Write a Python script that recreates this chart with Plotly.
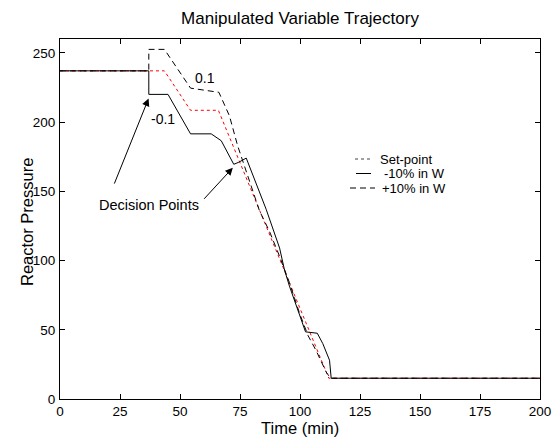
import plotly.graph_objects as go

# ---- data ----
t_setpoint = [0, 37, 43.5, 54.4, 66, 112, 200]
p_setpoint = [237, 237, 237, 208.5, 208.5, 15, 15]

t_minus = [0, 37, 37, 45, 54.4, 63, 67.2, 72.4, 74.5, 77.6, 85.9, 91.5, 93.5, 95.6,
           102.3, 107.2, 109.5, 112.3, 113, 200]
p_minus = [237, 237, 220, 220, 191.5, 191.5, 186.5, 169.5, 171, 174, 137, 109, 93.5, 81.5,
           48.5, 47.5, 40, 28, 15, 15]

t_plus = [0, 37, 37, 43.5, 54.4, 66.2, 70.6, 74, 83.1, 87.3, 91.5, 95.6, 99.8, 103.3,
          106.7, 110.9, 112.7, 200]
p_plus = [237, 237, 252.5, 252.5, 224.5, 221.5, 204.5, 183, 136, 121, 103, 84, 62, 46,
          35, 19.5, 15, 15]

x_ticks = [0, 25, 50, 75, 100, 125, 150, 175, 200]
y_ticks = [0, 50, 100, 150, 200, 250]
legend_labels = ["Set-point", "-10% in W", "+10% in W"]

FONT = "Liberation Sans, Arial, sans-serif"
W, H = 552, 437
ML, MR, MT, MB = 60, 12, 39, 38

fig = go.Figure()
fig.add_trace(go.Scatter(x=t_setpoint, y=p_setpoint, mode="lines",
                         line=dict(color="red", width=1, dash="3px,3px"), showlegend=False))
fig.add_trace(go.Scatter(x=t_minus, y=p_minus, mode="lines",
                         line=dict(color="black", width=1), showlegend=False))
fig.add_trace(go.Scatter(x=t_plus, y=p_plus, mode="lines",
                         line=dict(color="black", width=1, dash="6px,4px"), showlegend=False))

axis_common = dict(showline=True, linecolor="black", linewidth=1, mirror="ticks",
                   ticks="inside", ticklen=5, tickcolor="black", showgrid=False,
                   zeroline=False, automargin=False,
                   tickfont=dict(family=FONT, size=13.5, color="black"))

fig.update_xaxes(range=[0, 200], tickvals=x_ticks, ticktext=[str(v) for v in x_ticks],
                 **axis_common)
fig.update_yaxes(range=[0, 260], tickvals=y_ticks, ticktext=[str(v) for v in y_ticks],
                 ticklabelstandoff=1,
                 **axis_common)

def px_x(p):
    return (p - ML) / (W - ML - MR)

def px_y(p):
    return (H - MB - p) / (H - MT - MB)

shapes = []
annotations = []

# axis titles as paper annotations
annotations.append(dict(xref="paper", yref="paper", x=px_x(300), y=px_y(428),
                        text="Time (min)", showarrow=False, xanchor="center", yanchor="middle",
                        font=dict(family=FONT, size=16.5, color="black")))
annotations.append(dict(xref="paper", yref="paper", x=px_x(27), y=px_y(222),
                        text="Reactor Pressure", showarrow=False, textangle=-90,
                        xanchor="center", yanchor="middle",
                        font=dict(family=FONT, size=16.5, color="black")))

# manual legend (paper coordinates)
leg_rows_px = [159, 173.5, 188]
leg_dash = ["3px,3px", "solid", "6px,4px"]
leg_x0_px = [355, 356, 350]
leg_x1_px = [372, 371, 375]
leg_color = ["#444", "black", "black"]
leg_tx_px = [378, 382, 380]
for i, lab in enumerate(legend_labels):
    shapes.append(dict(type="line", xref="paper", yref="paper",
                       x0=px_x(leg_x0_px[i]), x1=px_x(leg_x1_px[i]),
                       y0=px_y(leg_rows_px[i]), y1=px_y(leg_rows_px[i]),
                       line=dict(color=leg_color[i], width=1, dash=leg_dash[i])))
    annotations.append(dict(xref="paper", yref="paper", x=px_x(leg_tx_px[i]),
                            y=px_y(leg_rows_px[i]), text=lab,
                            showarrow=False, xanchor="left", yanchor="middle",
                            font=dict(family=FONT, size=13, color="black")))

# text labels
annotations.append(dict(x=60.5, y=231.5, text="0.1", showarrow=False,
                        font=dict(family=FONT, size=14, color="black")))
annotations.append(dict(x=42.8, y=202.5, text="-0.1", showarrow=False,
                        font=dict(family=FONT, size=14, color="black")))
annotations.append(dict(x=37, y=140, text="Decision Points", showarrow=False,
                        font=dict(family=FONT, size=14.5, color="black")))
# arrows
annotations.append(dict(x=36.9, y=217, ax=22.4, ay=154.5, axref="x", ayref="y",
                        text="", showarrow=True, arrowhead=2, arrowsize=1.5, arrowwidth=1,
                        arrowcolor="black"))
annotations.append(dict(x=72, y=167, ax=59.5, ay=143.5, axref="x", ayref="y",
                        text="", showarrow=True, arrowhead=2, arrowsize=1.5, arrowwidth=1,
                        arrowcolor="black"))

fig.update_layout(
    width=W, height=H,
    margin=dict(l=ML, r=MR, t=MT, b=MB, autoexpand=False),
    plot_bgcolor="white", paper_bgcolor="white",
    title=dict(text="Manipulated Variable Trajectory", x=300 / W, xanchor="center",
               y=1 - 18 / H, yanchor="middle",
               font=dict(family=FONT, size=17, color="black")),
    shapes=shapes, annotations=annotations, showlegend=False,
)

fig.write_html("out.html", config={"displayModeBar": False},
               post_script="document.body.style.margin='0';document.body.style.overflow='hidden';")
